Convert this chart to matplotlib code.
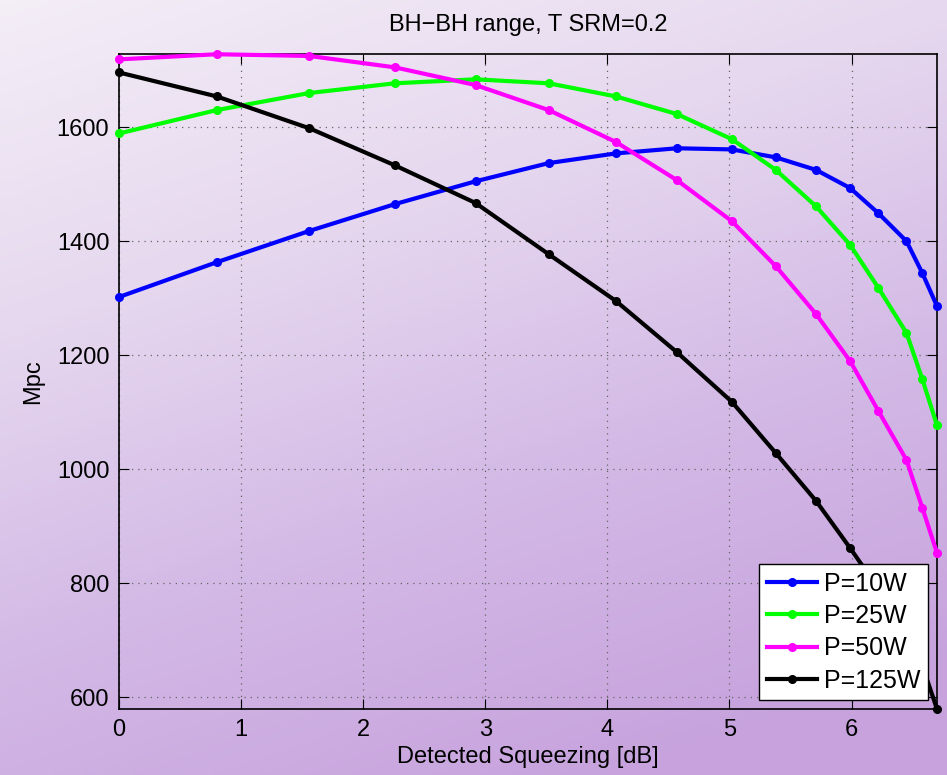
import numpy as np
import matplotlib.pyplot as plt
from matplotlib.colors import LinearSegmentedColormap

plt.rcParams['font.family'] = ['Liberation Sans', 'DejaVu Sans']

# detected squeezing [dB]
squeeze = [0, 0.80, 1.56, 2.26, 2.92, 3.52, 4.07, 4.57, 5.02, 5.38,
           5.71, 5.99, 6.22, 6.45, 6.58, 6.70]

# BH-BH range [Mpc] for each input power
range_10w = [1302, 1363, 1418, 1465, 1505, 1537, 1554, 1563, 1561, 1547,
             1525, 1493, 1449, 1400, 1344, 1286]
range_25w = [1589, 1630, 1660, 1677, 1684, 1677, 1654, 1623, 1579, 1525,
             1461, 1393, 1318, 1239, 1158, 1077]
range_50w = [1719, 1728, 1725, 1705, 1674, 1630, 1574, 1507, 1435, 1356,
             1272, 1189, 1102, 1016, 932, 853]
range_125w = [1696, 1654, 1598, 1533, 1467, 1377, 1295, 1205, 1118, 1028,
              944, 861, 790, 715, 655, 579]

labels = ['P=10W', 'P=25W', 'P=50W', 'P=125W']
colors = ['#0000ff', '#00ff00', '#ff00ff', '#000000']

fig = plt.figure(figsize=(9.47, 7.75), dpi=100)

# purple gradient behind everything
bg = fig.add_axes([0, 0, 1, 1], zorder=-10)
yy, xx = np.mgrid[0:1:200j, 0:1:200j]
t = np.clip(0.78 * yy + 0.32 * xx, 0, 1)
cmap = LinearSegmentedColormap.from_list(
    'lilac', ['#f4eef7', '#e6d8ef', '#d3b9e6', '#c7a2dd'])
bg.imshow(t, cmap=cmap, aspect='auto', extent=[0, 1, 1, 0])
bg.axis('off')

ax = fig.add_axes([0.1257, 0.0852, 0.8637, 0.8448])
ax.patch.set_alpha(0)

for vals, lab, col in zip([range_10w, range_25w, range_50w, range_125w],
                          labels, colors):
    ax.plot(squeeze, vals, '-o', color=col, lw=3, ms=5.5, label=lab,
            clip_on=False, zorder=3)

ax.set_xlim(0, 6.70)
ax.set_ylim(579, 1728)
ax.set_xticks(range(0, 7))
ax.set_yticks(range(600, 1601, 200))
ax.grid(True, color='#666666', linestyle=(0, (1, 4)), linewidth=0.9)
ax.tick_params(direction='in', top=True, right=True, length=7,
               labelsize=17, pad=7)
for s in ax.spines.values():
    s.set_linewidth(1.2)

ax.set_xlabel('Detected Squeezing [dB]', fontsize=17, labelpad=4)
ax.set_ylabel('Mpc', fontsize=17, labelpad=9)
ax.set_title('BH\u2212BH range, T SRM=0.2', fontsize=17, pad=17)

leg = ax.legend(loc='lower right', fontsize=18, fancybox=False,
                framealpha=1, edgecolor='black', handlelength=2.0,
                borderaxespad=0.35, labelspacing=0.33, handletextpad=0.3,
                borderpad=0.3)
leg.set_zorder(5)
leg.get_frame().set_linewidth(1.0)

fig.savefig('out.png', dpi=100)
